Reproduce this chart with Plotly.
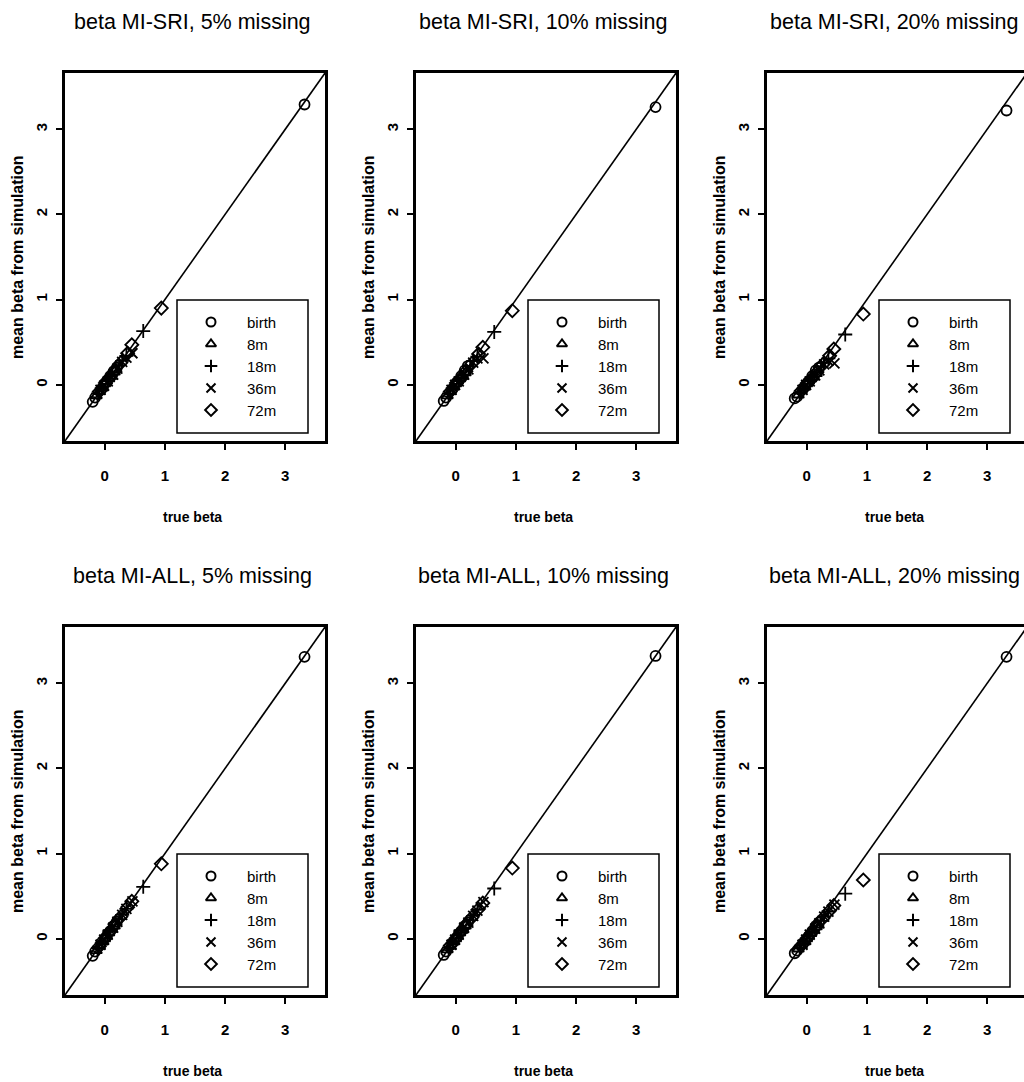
import plotly.graph_objects as go

# ---------------- data ----------------
groups = ["birth", "8m", "18m", "36m", "72m"]
symbols = ["circle-open", "triangle-up-open", "cross-thin-open", "x-thin-open", "diamond-open"]

true_birth = [-0.20, -0.16, -0.06, 0.02, 0.09, 0.15, 0.20, 3.32]
true_8m = [-0.14, -0.09, -0.04, 0.00, 0.03, 0.07, 0.11, 0.16]
true_18m = [-0.11, -0.05, 0.04, 0.10, 0.24, 0.29, 0.36, 0.64]
true_36m = [-0.07, -0.01, 0.05, 0.14, 0.21, 0.29, 0.36, 0.46]
true_72m = [-0.09, 0.01, 0.08, 0.17, 0.27, 0.38, 0.45, 0.94]
true_beta = [true_birth, true_8m, true_18m, true_36m, true_72m]

# mean beta from simulation, per panel: [birth, 8m, 18m, 36m, 72m]
mean_sri_05 = [
    [-0.20, -0.15, -0.05, 0.03, 0.10, 0.16, 0.20, 3.29],
    [-0.13, -0.08, -0.04, 0.01, 0.04, 0.07, 0.10, 0.15],
    [-0.10, -0.04, 0.05, 0.10, 0.23, 0.28, 0.34, 0.63],
    [-0.06, -0.01, 0.04, 0.12, 0.19, 0.27, 0.32, 0.37],
    [-0.08, 0.02, 0.08, 0.16, 0.26, 0.37, 0.47, 0.90],
]
mean_sri_10 = [
    [-0.19, -0.15, -0.05, 0.03, 0.10, 0.17, 0.22, 3.26],
    [-0.13, -0.08, -0.03, 0.01, 0.04, 0.07, 0.10, 0.14],
    [-0.10, -0.04, 0.05, 0.09, 0.22, 0.28, 0.33, 0.62],
    [-0.06, 0.00, 0.04, 0.12, 0.18, 0.26, 0.31, 0.31],
    [-0.08, 0.02, 0.07, 0.16, 0.25, 0.36, 0.44, 0.87],
]
mean_sri_20 = [
    [-0.16, -0.14, -0.04, 0.03, 0.10, 0.17, 0.20, 3.22],
    [-0.12, -0.07, -0.03, 0.01, 0.04, 0.07, 0.09, 0.13],
    [-0.09, -0.04, 0.04, 0.09, 0.21, 0.26, 0.31, 0.59],
    [-0.06, 0.00, 0.04, 0.11, 0.17, 0.24, 0.28, 0.25],
    [-0.07, 0.02, 0.07, 0.15, 0.24, 0.34, 0.42, 0.83],
]
mean_all_05 = [
    [-0.20, -0.15, -0.05, 0.02, 0.09, 0.15, 0.20, 3.31],
    [-0.14, -0.09, -0.04, 0.00, 0.03, 0.07, 0.11, 0.15],
    [-0.11, -0.05, 0.04, 0.10, 0.23, 0.28, 0.35, 0.61],
    [-0.07, -0.01, 0.05, 0.13, 0.20, 0.28, 0.35, 0.44],
    [-0.09, 0.01, 0.08, 0.17, 0.26, 0.37, 0.44, 0.88],
]
mean_all_10 = [
    [-0.19, -0.15, -0.05, 0.02, 0.09, 0.15, 0.19, 3.32],
    [-0.13, -0.09, -0.04, 0.00, 0.03, 0.07, 0.10, 0.15],
    [-0.10, -0.05, 0.04, 0.10, 0.22, 0.27, 0.34, 0.59],
    [-0.07, -0.01, 0.05, 0.13, 0.19, 0.27, 0.33, 0.43],
    [-0.08, 0.01, 0.08, 0.16, 0.25, 0.35, 0.42, 0.83],
]
mean_all_20 = [
    [-0.17, -0.14, -0.05, 0.02, 0.09, 0.15, 0.19, 3.31],
    [-0.12, -0.08, -0.04, 0.00, 0.03, 0.06, 0.10, 0.14],
    [-0.10, -0.05, 0.04, 0.09, 0.21, 0.26, 0.32, 0.53],
    [-0.07, -0.01, 0.05, 0.12, 0.18, 0.26, 0.32, 0.40],
    [-0.08, 0.01, 0.07, 0.15, 0.24, 0.33, 0.39, 0.69],
]
panel_means = [mean_sri_05, mean_sri_10, mean_sri_20, mean_all_05, mean_all_10, mean_all_20]
panel_titles = [
    "beta MI-SRI, 5% missing", "beta MI-SRI, 10% missing", "beta MI-SRI, 20% missing",
    "beta MI-ALL, 5% missing", "beta MI-ALL, 10% missing", "beta MI-ALL, 20% missing",
]
tick_vals = [0, 1, 2, 3]
axis_lo, axis_hi = -0.66, 3.66
x_title = "true beta"
y_title = "mean beta from simulation"

# ---------------- layout ----------------
W, H = 1024, 1082
col_left = [65, 416, 767]
row_top = [73, 627]
PW, PH = 260, 368

NARROW = "Liberation Sans Narrow, Arial Narrow, Liberation Sans, Arial, sans-serif"
WIDE = "Liberation Sans, Arial, Helvetica, sans-serif"


def fx(p):
    return p / W


def fy(p):
    return 1 - p / H


fig = go.Figure()
layout = dict(
    width=W, height=H, margin=dict(l=0, r=0, t=0, b=0),
    paper_bgcolor="white", plot_bgcolor="rgba(0,0,0,0)",
    showlegend=False, shapes=[], annotations=[],
)

for i in range(6):
    r, c = divmod(i, 3)
    left, top = col_left[c], row_top[r]
    right = min(left + PW, W)
    x_hi = axis_lo + (right - left) / PW * (axis_hi - axis_lo)
    n = i + 1
    xa = "xaxis" if n == 1 else f"xaxis{n}"
    ya = "yaxis" if n == 1 else f"yaxis{n}"
    xr = "x" if n == 1 else f"x{n}"
    yr = "y" if n == 1 else f"y{n}"
    layout[xa] = dict(
        domain=[fx(left), fx(right)], range=[axis_lo, x_hi], anchor=yr,
        showline=True, linecolor="black", linewidth=2.5, mirror=True,
        ticks="outside", ticklen=6, tickwidth=2, tickcolor="black",
        tickvals=tick_vals, showgrid=False, zeroline=False,
        tickfont=dict(family=NARROW, size=15, color="black", weight="bold"),
        ticklabelstandoff=13, fixedrange=True,
    )
    layout[ya] = dict(
        domain=[fy(top + PH), fy(top)], range=[axis_lo, axis_hi], anchor=xr,
        showline=True, linecolor="black", linewidth=2.5, mirror=(c < 2),
        ticks="outside", ticklen=6, tickwidth=2, tickcolor="black",
        tickvals=tick_vals, showgrid=False, zeroline=False, tickangle=-90,
        tickfont=dict(family=WIDE, size=15, color="black", weight="bold"),
        ticklabelstandoff=3, fixedrange=True,
    )
    # identity line
    fig.add_trace(go.Scatter(
        x=[axis_lo, axis_hi], y=[axis_lo, axis_hi], mode="lines",
        line=dict(color="black", width=1.6), xaxis=xr, yaxis=yr, hoverinfo="skip",
    ))
    # data points
    for g, (name, sym) in enumerate(zip(groups, symbols)):
        fig.add_trace(go.Scatter(
            x=true_beta[g], y=panel_means[i][g], mode="markers", name=name,
            marker=dict(symbol=sym, size=10, color="black", line=dict(color="black", width=1.8)),
            xaxis=xr, yaxis=yr, cliponaxis=True,
        ))
    cx = left + PW / 2 - 3
    # title
    layout["annotations"].append(dict(
        text=panel_titles[i], x=fx(cx), y=fy(top - 51), xref="paper", yref="paper",
        showarrow=False, xanchor="center", yanchor="middle",
        font=dict(family=NARROW, size=21.5, color="black"),
    ))
    # x axis title
    layout["annotations"].append(dict(
        text=x_title, x=fx(cx), y=fy(top + PH + 76), xref="paper", yref="paper",
        showarrow=False, xanchor="center", yanchor="middle",
        font=dict(family=NARROW, size=14, color="black", weight="bold"),
    ))
    # y axis title
    layout["annotations"].append(dict(
        text=y_title, x=fx(left - 48), y=fy(top + PH / 2), xref="paper", yref="paper",
        showarrow=False, xanchor="center", yanchor="middle", textangle=-90,
        font=dict(family=WIDE, size=16, color="black", weight="bold"),
    ))
    # legend box
    bl, bt = left + 112, top + 227
    br, bb = left + 243, top + 360
    layout["shapes"].append(dict(
        type="rect", xref="paper", yref="paper",
        x0=fx(bl), x1=fx(br), y0=fy(bb), y1=fy(bt),
        line=dict(color="black", width=1.5), fillcolor="rgba(0,0,0,0)", layer="above",
    ))
    sx, ty0, dy = bl + 34, bt + 22, 22
    for g, (name, sym) in enumerate(zip(groups, symbols)):
        fig.add_trace(go.Scatter(
            x=[sx], y=[ty0 + g * dy], mode="markers", xaxis="x7", yaxis="y7",
            marker=dict(symbol=sym, size=9, color="black", line=dict(color="black", width=2)),
            hoverinfo="skip",
        ))
        layout["annotations"].append(dict(
            text=name, x=fx(bl + 68), y=fy(ty0 + g * dy), xref="paper", yref="paper",
            showarrow=False, xanchor="left", yanchor="middle",
            font=dict(family=NARROW, size=15, color="black"),
        ))

# overlay pixel-space axes for legend keys
layout["xaxis7"] = dict(domain=[0, 1], range=[0, W], visible=False, anchor="y7", fixedrange=True)
layout["yaxis7"] = dict(domain=[0, 1], range=[H, 0], visible=False, anchor="x7", fixedrange=True)

fig.update_layout(**layout)
fig.write_html("out.html", config={"displayModeBar": False},
               post_script="document.body.style.margin='0px';")
